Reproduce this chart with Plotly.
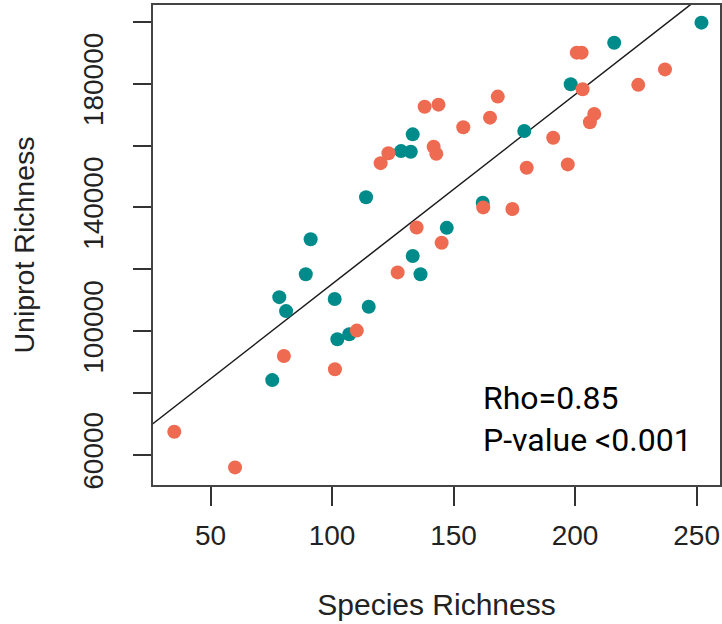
import plotly.graph_objects as go

# Species richness (x) and Uniprot richness (y) for the two groups
orange_x = [35.1, 60.1, 80.2, 101.2, 110.2, 127.0, 134.8, 145.1, 120.0, 123.2,
            138.1, 143.8, 141.8, 142.9, 154.0, 165.0, 168.2, 162.2, 174.2, 180.1,
            191.0, 197.0, 200.7, 202.7, 203.1, 207.9, 206.1, 226.0, 237.0]
orange_y = [67500, 56000, 92000, 87700, 100200, 119000, 133500, 128600, 154300, 157500,
            172500, 173200, 159600, 157300, 165900, 169000, 175800, 140000, 139500, 152800,
            162500, 153900, 190000, 190000, 178200, 170200, 167500, 179600, 184600]

teal_x = [75.4, 78.3, 81.1, 89.2, 91.2, 101.1, 102.2, 107.1, 115.1, 114.0,
          128.4, 132.4, 133.2, 133.2, 136.4, 147.2, 162.0, 179.1, 198.2, 216.1, 252.0]
teal_y = [84200, 111000, 106500, 118400, 129700, 110400, 97400, 99000, 107900, 143300,
          158200, 158000, 163600, 124300, 118400, 133400, 141500, 164700, 179800, 193200, 199700]

# Fitted line (intercept, slope)
fit_intercept = 54020
fit_slope = 612.1
line_x = [0, 300]
line_y = [fit_intercept + fit_slope * v for v in line_x]

x_ticks = [50, 100, 150, 200, 250]
x_ticktext = ["50", "100", "150", "200", "250"]
y_ticks = [60000, 80000, 100000, 120000, 140000, 160000, 180000, 200000]
y_ticktext = ["60000", "", "100000", "", "140000", "", "180000", ""]

x_range = [26.34, 259.63]
y_range = [50310, 205400]

ORANGE = "#EE6A50"
TEAL = "#008B8B"
FAMILY = "Liberation Sans, Arial, sans-serif"
AXIS_FONT = dict(family=FAMILY, size=28, color="#222222")

fig = go.Figure()
fig.add_trace(go.Scatter(x=line_x, y=line_y, mode="lines",
                         line=dict(color="#1a1a1a", width=1.5), showlegend=False,
                         hoverinfo="skip"))
fig.add_trace(go.Scatter(x=teal_x, y=teal_y, mode="markers",
                         marker=dict(color=TEAL, size=14, line=dict(width=0)),
                         showlegend=False))
fig.add_trace(go.Scatter(x=orange_x, y=orange_y, mode="markers",
                         marker=dict(color=ORANGE, size=14, line=dict(width=0)),
                         showlegend=False))

fig.add_annotation(x=0.579, y=0.05, xref="paper", yref="paper",
                   xanchor="left", yanchor="bottom", align="left", showarrow=False,
                   text="Rho=0.85<br>P-value <0.001",
                   font=dict(family="Roboto, sans-serif", size=32, color="#000000"))

fig.update_layout(
    width=722, height=624,
    margin=dict(l=153, r=2, t=5, b=139),
    plot_bgcolor="white", paper_bgcolor="white",
    font=AXIS_FONT,
)
fig.update_xaxes(
    range=x_range, tickmode="array", tickvals=x_ticks, ticktext=x_ticktext,
    showgrid=False, zeroline=False, showline=True, mirror=True,
    linecolor="#444444", linewidth=1.5, automargin=False,
    ticks="outside", ticklen=19, tickwidth=1.5, tickcolor="#333333",
    ticklabelstandoff=6, tickfont=AXIS_FONT,
    title=dict(text="Species Richness", font=dict(family=FAMILY, size=30, color="#222222"),
               standoff=44),
)
fig.update_yaxes(
    range=y_range, tickmode="array", tickvals=y_ticks, ticktext=y_ticktext,
    showgrid=False, zeroline=False, showline=True, mirror=True,
    linecolor="#444444", linewidth=1.5, automargin=False,
    ticks="outside", ticklen=18, tickwidth=1.5, tickcolor="#333333",
    tickangle=-90, ticklabelstandoff=19, tickfont=AXIS_FONT,
    title=dict(text="Uniprot Richness", font=dict(family=FAMILY, size=28.5, color="#222222"),
               standoff=35),
)

fig.write_html("out.html", config={"displayModeBar": False},
               post_script="document.body.style.margin='0';document.body.style.overflow='hidden';")
